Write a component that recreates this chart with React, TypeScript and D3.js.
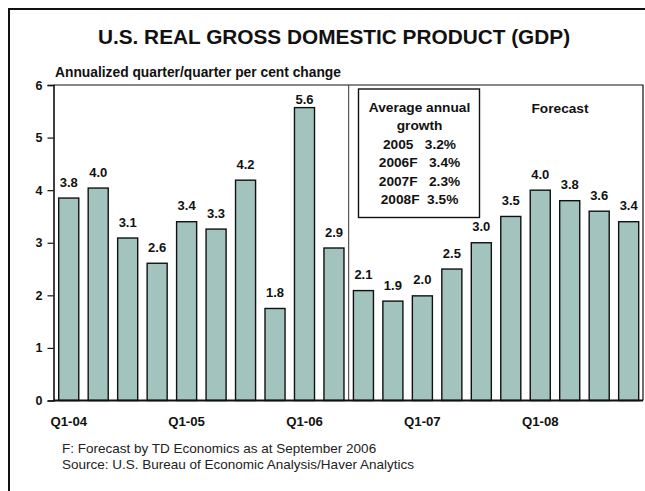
import { useEffect, useRef } from "react";
import * as d3 from "d3";

// quarters Q1-04 .. Q4-08, forecast from Q3-06
const quarters = [
  "Q1-04", "Q2-04", "Q3-04", "Q4-04",
  "Q1-05", "Q2-05", "Q3-05", "Q4-05",
  "Q1-06", "Q2-06", "Q3-06", "Q4-06",
  "Q1-07", "Q2-07", "Q3-07", "Q4-07",
  "Q1-08", "Q2-08", "Q3-08", "Q4-08",
];
const gdpGrowth = [3.85, 4.04, 3.09, 2.61, 3.4, 3.26, 4.19, 1.75, 5.57, 2.9, 2.09, 1.89, 1.99, 2.5, 3.0, 3.5, 4.0, 3.8, 3.6, 3.4];
const barLabels = ["3.8", "4.0", "3.1", "2.6", "3.4", "3.3", "4.2", "1.8", "5.6", "2.9", "2.1", "1.9", "2.0", "2.5", "3.0", "3.5", "4.0", "3.8", "3.6", "3.4"];
const tickQuarters = ["Q1-04", "Q1-05", "Q1-06", "Q1-07", "Q1-08"];
const yTicks = [0, 1, 2, 3, 4, 5, 6];
const forecastStart = "Q3-06";

const avgYears = ["2005", "2006F", "2007F", "2008F"];
const avgRates = ["3.2%", "3.4%", "2.3%", "3.5%"];
const avgGaps = [3, 3, 3, 2];

const title = "U.S. REAL GROSS DOMESTIC PRODUCT (GDP)";
const subtitle = "Annualized quarter/quarter per cent change";
const footnotes = [
  "F: Forecast by TD Economics as at September 2006",
  "Source: U.S. Bureau of Economic Analysis/Haver Analytics",
];

const FONT = "'Liberation Sans', Arial, sans-serif";

export default function App() {
  const svgRef = useRef<SVGSVGElement | null>(null);

  useEffect(() => {
    const svgEl = svgRef.current;
    if (!svgEl) return;
    const svg = d3.select(svgEl);
    svg.selectAll("*").remove();

    const plot = { left: 53.5, right: 643, top: 85, bottom: 400.5 };

    const x = d3.scaleBand<string>()
      .domain(quarters)
      .range([54, 643.4])
      .paddingInner(0.32)
      .paddingOuter(0.16);

    const y = d3.scaleLinear()
      .domain([0, 6])
      .range([plot.bottom, plot.top]);

    // outer frame
    svg.append("rect")
      .attr("x", 9).attr("y", 9)
      .attr("width", 700).attr("height", 520)
      .attr("fill", "white")
      .attr("stroke", "#111")
      .attr("stroke-width", 2);

    // title + subtitle
    svg.append("text")
      .attr("x", 334).attr("y", 44)
      .attr("text-anchor", "middle")
      .attr("font-family", FONT)
      .attr("font-weight", "bold")
      .attr("font-size", 20.8)
      .attr("fill", "#111")
      .text(title);

    svg.append("text")
      .attr("x", 55).attr("y", 77)
      .attr("font-family", FONT)
      .attr("font-weight", "bold")
      .attr("font-size", 13.8)
      .attr("fill", "#111")
      .text(subtitle);

    // plot frame (top + right)
    svg.append("path")
      .attr("d", `M${plot.left},${plot.top}H${plot.right}V${plot.bottom}`)
      .attr("fill", "none")
      .attr("stroke", "#111")
      .attr("stroke-width", 1.2);

    // forecast separator
    const sepX = (x(forecastStart) ?? 0) - (x.step() - x.bandwidth()) / 2;
    svg.append("line")
      .attr("x1", sepX).attr("x2", sepX)
      .attr("y1", plot.top).attr("y2", plot.bottom)
      .attr("stroke", "#333")
      .attr("stroke-width", 1);

    // bars
    svg.append("g")
      .selectAll("rect")
      .data(gdpGrowth)
      .join("rect")
      .attr("x", (d, i) => x(quarters[i]) ?? 0)
      .attr("y", (d) => y(d))
      .attr("width", x.bandwidth())
      .attr("height", (d) => y(0) - y(d))
      .attr("fill", "#a3c4be")
      .attr("stroke", "#111")
      .attr("stroke-width", 1.4);

    // bar labels
    svg.append("g")
      .selectAll("text")
      .data(gdpGrowth)
      .join("text")
      .attr("x", (d, i) => (x(quarters[i]) ?? 0) + x.bandwidth() / 2)
      .attr("y", (d) => Math.max(y(d) - 11.5, plot.top + 19))
      .attr("text-anchor", "middle")
      .attr("font-family", FONT)
      .attr("font-weight", "bold")
      .attr("font-size", 13)
      .attr("fill", "#111")
      .text((d, i) => barLabels[i]);

    // y axis
    const yAxis = svg.append("g")
      .attr("transform", `translate(${plot.left},0)`)
      .call(d3.axisLeft(y).tickValues(yTicks).tickSize(6).tickPadding(5).tickFormat(d3.format("d")));
    yAxis.select(".domain").attr("stroke", "#111").attr("stroke-width", 1.6);
    yAxis.selectAll(".tick line").attr("stroke", "#111").attr("stroke-width", 1.2);
    yAxis.selectAll("text")
      .attr("font-family", FONT)
      .attr("font-weight", "bold")
      .attr("font-size", 12.5)
      .attr("fill", "#111");

    // x axis
    svg.append("line")
      .attr("x1", plot.left).attr("x2", plot.right)
      .attr("y1", plot.bottom).attr("y2", plot.bottom)
      .attr("stroke", "#111")
      .attr("stroke-width", 1.8);

    svg.append("g")
      .selectAll("text")
      .data(tickQuarters)
      .join("text")
      .attr("x", (d) => (x(d) ?? 0) + x.bandwidth() / 2)
      .attr("y", 426)
      .attr("text-anchor", "middle")
      .attr("font-family", FONT)
      .attr("font-weight", "bold")
      .attr("font-size", 13.2)
      .attr("fill", "#111")
      .text((d) => d);

    // average annual growth box
    svg.append("rect")
      .attr("x", 358.5).attr("y", 89)
      .attr("width", 121).attr("height", 128.5)
      .attr("fill", "white")
      .attr("stroke", "#111")
      .attr("stroke-width", 1.4);

    const boxLines = ["Average annual", "growth"].concat(
      avgYears.map((yr, i) => yr + " ".repeat(avgGaps[i]) + avgRates[i])
    );
    svg.append("g")
      .selectAll("text")
      .data(boxLines)
      .join("text")
      .attr("x", 419.5)
      .attr("y", (d, i) => (i === 0 ? 112.3 : 130 + (i - 1) * 18.5))
      .attr("text-anchor", "middle")
      .attr("font-family", FONT)
      .attr("font-weight", "bold")
      .attr("font-size", 13.7)
      .attr("fill", "#111")
      .style("white-space", "pre")
      .text((d) => d);

    svg.append("text")
      .attr("x", 560).attr("y", 113.3)
      .attr("text-anchor", "middle")
      .attr("font-family", FONT)
      .attr("font-weight", "bold")
      .attr("font-size", 13.7)
      .attr("fill", "#111")
      .text("Forecast");

    // footnotes
    svg.append("g")
      .selectAll("text")
      .data(footnotes)
      .join("text")
      .attr("x", 62)
      .attr("y", (d, i) => 453 + i * 15.5)
      .attr("font-family", FONT)
      .attr("font-size", 13.5)
      .attr("fill", "#222")
      .text((d) => d);
  }, []);

  return (
    <svg
      ref={svgRef}
      width={645}
      height={491}
      style={{ position: "absolute", left: 0, top: 0, background: "white" }}
    />
  );
}
